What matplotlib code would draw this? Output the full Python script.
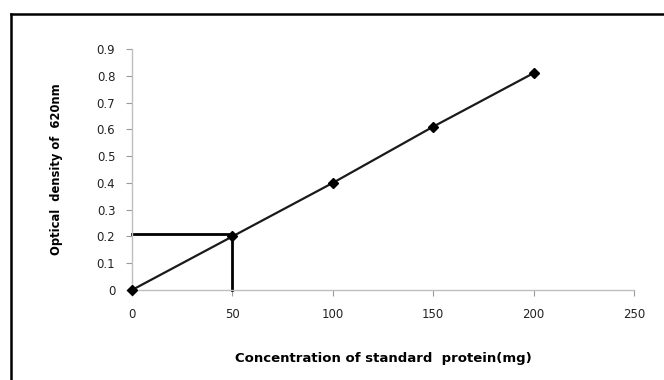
import matplotlib
matplotlib.use("Agg")
import matplotlib.pyplot as plt
from matplotlib.lines import Line2D

# standard curve data
concentration = [0, 50, 100, 150, 200]
optical_density = [0, 0.2, 0.4, 0.61, 0.81]

# read-off of the sample
sample_conc = 50
sample_od = 0.21

x_ticks = [0, 50, 100, 150, 200, 250]
y_ticks = [0, 0.1, 0.2, 0.3, 0.4, 0.5, 0.6, 0.7, 0.8, 0.9]
y_ticklabels = ["0", "0.1", "0.2", "0.3", "0.4", "0.5", "0.6", "0.7", "0.8", "0.9"]

fig = plt.figure(figsize=(6.64, 3.8), dpi=100)
ax = fig.add_axes([132 / 664, 1 - 290 / 380, (634 - 132) / 664, (290 - 49) / 380])

ax.plot(concentration, optical_density, color="#1a1a1a", lw=1.6,
        marker="D", markersize=5.5, markerfacecolor="black", markeredgecolor="black",
        clip_on=False, zorder=3)

# guide lines for reading the sample
ax.plot([0, sample_conc], [sample_od, sample_od], color="black", lw=2.0, clip_on=False, zorder=2)
ax.plot([sample_conc, sample_conc], [0, sample_od], color="black", lw=2.0, clip_on=False, zorder=2)

ax.set_xlim(0, 250)
ax.set_ylim(0, 0.9)
ax.set_xticks(x_ticks)
ax.set_yticks(y_ticks)
ax.set_yticklabels(y_ticklabels)

for side in ["top", "right"]:
    ax.spines[side].set_visible(False)
for side in ["left", "bottom"]:
    ax.spines[side].set_color("#bfbfbf")
    ax.spines[side].set_linewidth(1.0)

ax.tick_params(axis="both", direction="out", length=4, width=0.8, color="#9a9a9a",
               labelsize=8.5, labelcolor="#222222")
ax.tick_params(axis="x", pad=9)
ax.tick_params(axis="y", pad=8)

ax.set_xlabel("Concentration of standard  protein(mg)", fontsize=9.5, fontweight="bold", labelpad=22)
ax.set_ylabel("Optical  density of  620nm", fontsize=8.3, fontweight="bold", labelpad=24)

# outer frame (top and left edges only)
fig.add_artist(Line2D([11 / 664, 1], [1 - 14 / 380, 1 - 14 / 380], transform=fig.transFigure,
                      color="black", lw=1.8))
fig.add_artist(Line2D([11 / 664, 11 / 664], [0, 1 - 14 / 380], transform=fig.transFigure,
                      color="black", lw=1.8))

fig.savefig("out.png", dpi=100)
